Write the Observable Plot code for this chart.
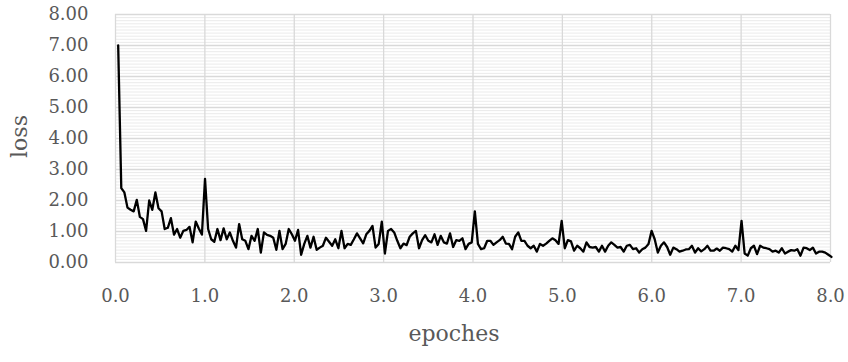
<!DOCTYPE html>
<html>
<head>
<meta charset="utf-8">
<script src="https://cdn.jsdelivr.net/npm/d3@7"></script>
<script src="https://cdn.jsdelivr.net/npm/@observablehq/plot@0.6"></script>
<style>
  html, body { margin: 0; padding: 0; background: #ffffff; }
  #chart { width: 848px; height: 362px; }
</style>
</head>
<body>
<div id="chart"></div>
<script>
// ---- data ----
const firstEpoch = 0.03;      // epoch of the first logged loss
const logInterval = 0.0347;   // epochs between logged losses
const lossValues = [
  7.0, 2.4, 2.26, 1.77, 1.7, 1.65, 2.02, 1.47, 1.4, 1.02, 2.0, 1.7, 2.26, 1.75, 1.65, 1.08, 1.12, 1.43, 0.9, 1.08,
  0.8, 1.02, 1.05, 1.15, 0.65, 1.32, 1.1, 0.9,
  2.7,
  1.08, 0.75, 0.67, 1.08, 0.72, 1.1, 0.75, 0.97, 0.7, 0.48, 1.24, 0.75, 0.7, 0.43, 0.86, 0.7, 1.08, 0.32, 0.97, 0.89,
  0.86, 0.8, 0.41, 1.02, 0.43, 0.6, 1.08, 0.91, 0.7, 1.05, 0.25, 0.6, 0.86, 0.48, 0.83, 0.41, 0.48, 0.54, 0.8, 0.67, 0.54,
  0.75, 0.46, 1.02, 0.46, 0.6, 0.57, 0.75, 0.94, 0.78, 0.62, 0.91, 1.02, 1.18, 0.48, 0.6,
  1.32,
  0.29, 1.02, 1.08, 0.97, 0.7, 0.46, 0.61, 0.56, 0.83, 0.94, 1.02, 0.46, 0.72, 0.88, 0.7, 0.65, 0.91, 0.57, 0.86, 0.65,
  0.61, 0.94, 0.5, 0.72, 0.7, 0.78, 0.43, 0.6, 0.65,
  1.65,
  0.6, 0.43, 0.46, 0.7, 0.7, 0.57, 0.65, 0.72, 0.83, 0.61, 0.6, 0.43, 0.83, 0.97, 0.7, 0.7, 0.54, 0.46, 0.54, 0.35,
  0.6, 0.54, 0.61, 0.7, 0.78, 0.72, 0.6,
  1.34,
  0.46, 0.72, 0.68, 0.38, 0.54, 0.46, 0.35, 0.65, 0.5, 0.48, 0.5, 0.35, 0.54, 0.35, 0.54, 0.65, 0.57, 0.48, 0.5, 0.35,
  0.54, 0.57, 0.43, 0.46, 0.32, 0.43, 0.48, 0.6,
  1.02,
  0.75, 0.32, 0.54, 0.65, 0.5, 0.25, 0.48, 0.43, 0.35, 0.38, 0.42, 0.43, 0.54, 0.32, 0.46, 0.36, 0.43, 0.54, 0.38, 0.38,
  0.45, 0.38, 0.48, 0.46, 0.43, 0.35, 0.54, 0.4,
  1.34,
  0.29, 0.22, 0.46, 0.54, 0.27, 0.54, 0.48, 0.46, 0.43, 0.35, 0.38, 0.32, 0.46, 0.29, 0.35, 0.4, 0.38, 0.43, 0.22, 0.48,
  0.46, 0.4, 0.48, 0.29, 0.35, 0.35, 0.32, 0.25, 0.18
];
const xTicks = [0, 1, 2, 3, 4, 5, 6, 7, 8];
const yTicks = [0, 1, 2, 3, 4, 5, 6, 7, 8];
const yMinorTicks = d3.range(0, 80).map(i => i / 10).filter(v => !yTicks.includes(v));
const xTitle = "epoches";
const yTitle = "loss";

// ---- table ----
const rows = lossValues.map((loss, i) => ({ epoch: firstEpoch + i * logInterval, loss }));

const font = "'DejaVu Serif', 'Liberation Serif', serif";
const textColor = "#595959";

const chart = Plot.plot({
  width: 848,
  height: 362,
  marginLeft: 115,
  marginRight: 18,
  marginTop: 14,
  marginBottom: 100,
  style: { fontFamily: font, background: "#ffffff", overflow: "visible" },
  x: { domain: [0, 8] },
  y: { domain: [0, 8] },
  marks: [
    Plot.ruleY(yMinorTicks, { stroke: "#ebebeb", strokeWidth: 1 }),
    Plot.ruleY(yTicks, { stroke: "#d9d9d9", strokeWidth: 1.3 }),
    Plot.ruleX(xTicks, { stroke: "#d9d9d9", strokeWidth: 1.3 }),
    Plot.lineY(rows, { x: "epoch", y: "loss", stroke: "#000000", strokeWidth: 2.3, strokeLinejoin: "round" }),
    Plot.axisY({ ticks: yTicks, tickSize: 0, tickPadding: 27, tickFormat: d => d.toFixed(2),
                 fontSize: 18, fill: textColor, label: null }),
    Plot.axisX({ ticks: xTicks, tickSize: 0, tickPadding: 27, tickFormat: d => d.toFixed(1),
                 fontSize: 18, fill: textColor, label: null }),
    Plot.text([xTitle], { frameAnchor: "bottom", textAnchor: "middle", lineAnchor: "middle",
                          dx: -19, dy: 71, fontSize: 22, fill: textColor }),
    Plot.text([yTitle], { frameAnchor: "left", textAnchor: "middle", lineAnchor: "middle",
                          dx: -95.5, dy: -2, rotate: -90, fontSize: 22, fill: textColor })
  ]
});
document.getElementById("chart").appendChild(chart);
</script>
</body>
</html>
